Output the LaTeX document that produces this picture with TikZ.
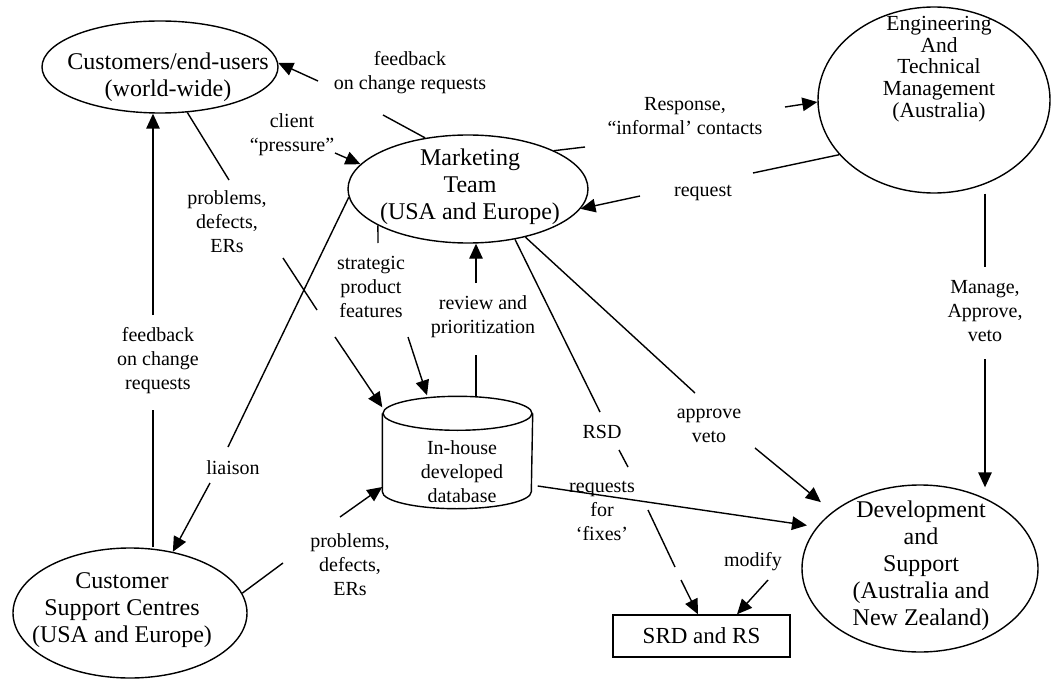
\documentclass[tikz,border=0pt]{standalone}
\usepackage{fontspec}
\setmainfont{Liberation Serif}
\usetikzlibrary{arrows.meta,calc,shapes.geometric}
\begin{document}
\begin{tikzpicture}[x=1pt,y=-1pt,
  line width=1.4pt,
  ell/.style={draw, ellipse, inner sep=0pt},
  big/.style={font=\fontsize{24}{27}\selectfont, align=center, inner sep=0pt},
  lbl/.style={font=\fontsize{20}{24}\selectfont, align=center, inner sep=0pt},
  arr/.style={-{Triangle[length=15pt,width=13.5pt]}},
]
\useasboundingbox (0,0) rectangle (1051,679);

% ---- main nodes
\node[ell, minimum width=236pt, minimum height=92pt] (cu) at (160,67) {};
\node[big] (cut) at (168,77) {Customers/end-users\\(world-wide)};
\node[ell, minimum width=240pt, minimum height=108pt] (mk) at (468,189) {};
\node[big] (mkt) at (470,187) {Marketing\\Team\\(USA and Europe)};
\node[ell, minimum width=232pt, minimum height=186pt] (en) at (934,100) {};
\node[font=\fontsize{21.5}{21.8}\selectfont, align=center, inner sep=0pt] (ent) at (939,69) {Engineering\\And\\Technical\\Management\\(Australia)};
\node[ell, minimum width=234pt, minimum height=130pt] (cs) at (130,613) {};
\node[big] (cst) at (122,610) {Customer\\Support Centres\\(USA and Europe)};
\node[ell, minimum width=236pt, minimum height=167pt] (dv) at (920,568.5) {};
\node[big] (dvt) at (921,566) {Development\\and\\Support\\(Australia and\\New Zealand)};
\node[inner sep=0pt, minimum width=149pt, minimum height=111pt] (db) at (457.5,452.5) {};
\draw ($(db.north)+(0,17)$) ellipse [x radius=74.5pt, y radius=17pt];
\draw ($(db.north west)+(0,17)$) -- ($(db.south west)+(0,-17)$)
  arc[start angle=180, end angle=360, x radius=74.5pt, y radius=17pt]
  -- ($(db.north east)+(0,17)$);
\node[lbl] (dbt) at (462,472) {In-house\\developed\\database};
\node[draw, minimum width=177pt, minimum height=42pt, inner sep=0pt, font=\fontsize{23}{27}\selectfont] (srd) at (701.5,636) {SRD and RS};

% ---- labels
\node[lbl] (l1) at (410,73) {feedback\\on change requests};
\node[lbl] (l2) at (292,135) {client\\“pressure”};
\node[lbl] (l3) at (227,222) {problems,\\defects,\\ERs};
\node[lbl] (l4) at (371,287) {strategic\\product\\features};
\node[lbl] (l5) at (483,317) {review and\\prioritization};
\node[lbl] (l6) at (158,361) {feedback\\on change\\requests};
\node[lbl] (l7) at (233,468) {liaison};
\node[lbl] (l8) at (350,565) {problems,\\defects,\\ERs};
\node[lbl] (l9) at (602,432) {RSD};
\node[lbl] (l10) at (602,511) {requests\\for\\‘fixes’};
\node[lbl] (l11) at (709,426) {approve\\veto};
\node[lbl] (l12) at (985,311) {Manage,\\Approve,\\veto};
\node[lbl] (l13) at (685,116) {Response,\\“informal’ contacts};
\node[lbl] (l14) at (703,193) {request};
\node[lbl] (l15) at (753,562) {modify};

% ---- connectors
% feedback on change requests (top)
\coordinate (f1) at (383,115); \coordinate (f2) at (318,81);
\draw (mk.130) -- (f1);
\draw[arr] (f2) -- (cu.2);
% client pressure
\coordinate (c1) at (335,153);
\draw[arr] (c1) -- (mk.167);
% problems (customers -> db)
\coordinate (p1) at (229,180); \coordinate (p2) at (283,258);
\coordinate (p3) at (317,310); \coordinate (p4) at (335,337);
\draw (cu.-59) -- (p1);
\draw (p2) -- (p3);
\draw[arr] (p4) -- ($(db.north west)+(0,11)$);
% liaison
\coordinate (li1) at (228,447); \coordinate (li2) at (210,483);
\draw (mk.184) -- (li1);
\draw[arr] (li2) -- (cs.55);
% feedback on change requests (vertical)
\coordinate (v1) at (153,410); \coordinate (v2) at (153,315);
\draw (v1 |- cs.north) -- (v1);
\draw[arr] (v2) -- (v2 |- cu.south);
% review and prioritization
\coordinate (r1) at (476,355); \coordinate (r2) at (476,283);
\draw (r1 |- db.north) -- (r1);
\draw[arr] (r2) -- (r2 |- mk.south);
% strategic product features
\coordinate (s1) at (378,243); \coordinate (s2) at (408,337);
\draw (mk.202) -- (s1);
\draw[arr] (s2) -- ($(db.north)+(-30.5,-1)$);
% problems (support centres -> db)
\coordinate (q1) at (283,563); \coordinate (q2) at (340,517);
\draw (cs.10) -- (q1);
\draw[arr] (q2) -- ($(db.west)+(0,34.5)$);
% db -> development
\draw[arr, shorten >=10pt] ($(db.east)+(5,33.5)$) -- (dv.158);
% RSD
\coordinate (rs1) at (600,412); \coordinate (rs2) at (619,450);
\coordinate (rs3) at (628,467); \coordinate (rs4) at (648,510);
\coordinate (rs5) at (675,567); \coordinate (rs6) at (681,580);
\draw (mk.-47) -- (rs1);
\draw (rs2) -- (rs3);
\draw (rs4) -- (rs5);
\draw[arr] (rs6) -- ($(srd.north)+(-3.5,0)$);
% approve veto
\coordinate (a1) at (695,393); \coordinate (a2) at (755,448);
\draw (mk.-40) -- (a1);
\draw[arr, shorten >=15pt] (a2) -- (dv.147);
% Manage, Approve, veto
\coordinate (m1) at (985,267); \coordinate (m2) at (985,359);
\draw (m1 |- en.south) -- (m1);
\draw[arr] (m2) -- ($(m2 |- dv.north)+(0,3)$);
% Response, informal contacts
\coordinate (rp1) at (585,147); \coordinate (rp2) at (785,107);
\draw (mk.24) -- (rp1);
\draw[arr] (rp2) -- (en.181);
% request
\coordinate (rq1) at (753,173); \coordinate (rq2) at (640,196);
\draw (en.210) -- (rq1);
\draw[arr] (rq2) -- (mk.-10);
% modify
\coordinate (md) at (768,580);
\draw[arr] (md) -- ($(srd.north)+(35.5,0)$);
\end{tikzpicture}
\end{document}
